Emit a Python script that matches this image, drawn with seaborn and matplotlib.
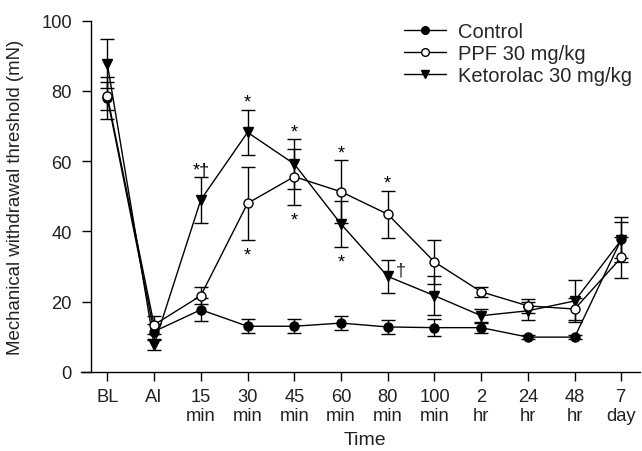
import numpy as np
import pandas as pd
import matplotlib
matplotlib.use("Agg")
import matplotlib.pyplot as plt
import seaborn as sns

categories = ["BL", "AI", "15\nmin", "30\nmin", "45\nmin", "60\nmin", "80\nmin",
              "100\nmin", "2\nhr", "24\nhr", "48\nhr", "7\nday"]

control_mean = [78.0, 11.5, 17.7, 13.0, 13.0, 13.9, 12.8, 12.6, 12.6, 9.9, 9.9, 37.8]
control_err = [6.0, 2.0, 3.2, 2.0, 2.0, 2.0, 2.0, 2.5, 1.5, 0.5, 0.5, 6.4]
ppf_mean = [78.5, 13.4, 21.7, 48.0, 55.6, 51.3, 44.9, 31.3, 22.8, 18.8, 17.9, 32.6]
ppf_err = [4.0, 2.5, 2.5, 10.4, 8.0, 9.0, 6.7, 6.3, 1.5, 2.0, 3.0, 5.9]
keto_mean = [87.7, 7.7, 49.0, 68.2, 59.2, 42.1, 27.2, 21.7, 16.0, 17.4, 20.2, 37.6]
keto_err = [7.0, 1.5, 6.5, 6.5, 7.0, 6.5, 4.7, 5.6, 2.0, 2.5, 6.0, 5.2]

series_names = ["Control", "PPF 30 mg/kg", "Ketorolac 30 mg/kg"]

# annotations: (category index, series, 'above'/'below', text)
annotations = [
    (2, "keto", "above", "*\u2020"),
    (3, "keto", "above", "*"),
    (4, "keto", "above", "*"),
    (5, "ppf", "above", "*"),
    (6, "ppf", "above", "*"),
    (3, "ppf", "below", "*"),
    (4, "ppf", "below", "*"),
    (5, "keto", "below", "*"),
]

sns.set_style("ticks")
plt.rcParams["font.family"] = ["Liberation Sans", "DejaVu Sans"]

fig = plt.figure(figsize=(6.42, 4.52), dpi=100)
ax = fig.add_axes([0.141, 0.175, 0.856, 0.777])

x = np.arange(len(categories))
data = {
    "control": (control_mean, control_err, "o", "black", 6.5, series_names[0]),
    "ppf": (ppf_mean, ppf_err, "o", "white", 6.5, series_names[1]),
    "keto": (keto_mean, keto_err, "v", "black", 7.5, series_names[2]),
}
draw_order = ["keto", "control", "ppf"]
for z, key in enumerate(draw_order):
    m, e, mk, fc, ms, name = data[key]
    ax.errorbar(x, m, yerr=e, fmt="none", ecolor="black", elinewidth=1.0,
                capsize=5, capthick=1.0, zorder=2)
    sns.lineplot(x=x, y=m, ax=ax, color="black", linewidth=1.0, marker=mk,
                 markersize=ms, markerfacecolor=fc, markeredgecolor="black",
                 markeredgewidth=1.0, label=name, zorder=3 + z)

for idx, key, pos, txt in annotations:
    m, e = data[key][0][idx], data[key][1][idx]
    if pos == "above":
        y = m + e + 0.8
    else:
        y = m - e - 5.6
    ax.text(idx, y, txt, ha="center", va="baseline", fontsize=13, color="black")
ax.text(6.27, keto_mean[6] + 0.4, "\u2020", ha="center", va="baseline", fontsize=13)

ax.set_xlim(-0.36, 11.4)
ax.set_ylim(0, 100)
ax.set_yticks([0, 20, 40, 60, 80, 100])
ax.set_xticks(x)
ax.set_xticklabels(categories)
ax.tick_params(axis="both", labelsize=13.2, direction="out", length=6.5, width=1,
               color="black", labelcolor="#222222")
ax.tick_params(axis="x", pad=5)
ax.tick_params(axis="y", pad=7)
sns.despine(ax=ax)
for s in ["left", "bottom"]:
    ax.spines[s].set_linewidth(1.0)
    ax.spines[s].set_color("black")
ax.spines["bottom"].set_bounds(-0.56, 11.4)
ax.set_xlabel("Time", fontsize=14, color="#222222", labelpad=5)
ax.set_ylabel("Mechanical withdrawal threshold (mN)", fontsize=13.4,
              color="#222222", labelpad=12)

handles, labels = ax.get_legend_handles_labels()
lookup = dict(zip(labels, handles))
leg = ax.legend([lookup[n] for n in series_names], series_names,
                loc="upper right", bbox_to_anchor=(1.0, 1.02), frameon=False,
                fontsize=14.5, handlelength=2.1, handletextpad=0.6,
                labelspacing=0.15, borderaxespad=0.0, markerscale=0.85)

fig.savefig("out.png", dpi=100)
